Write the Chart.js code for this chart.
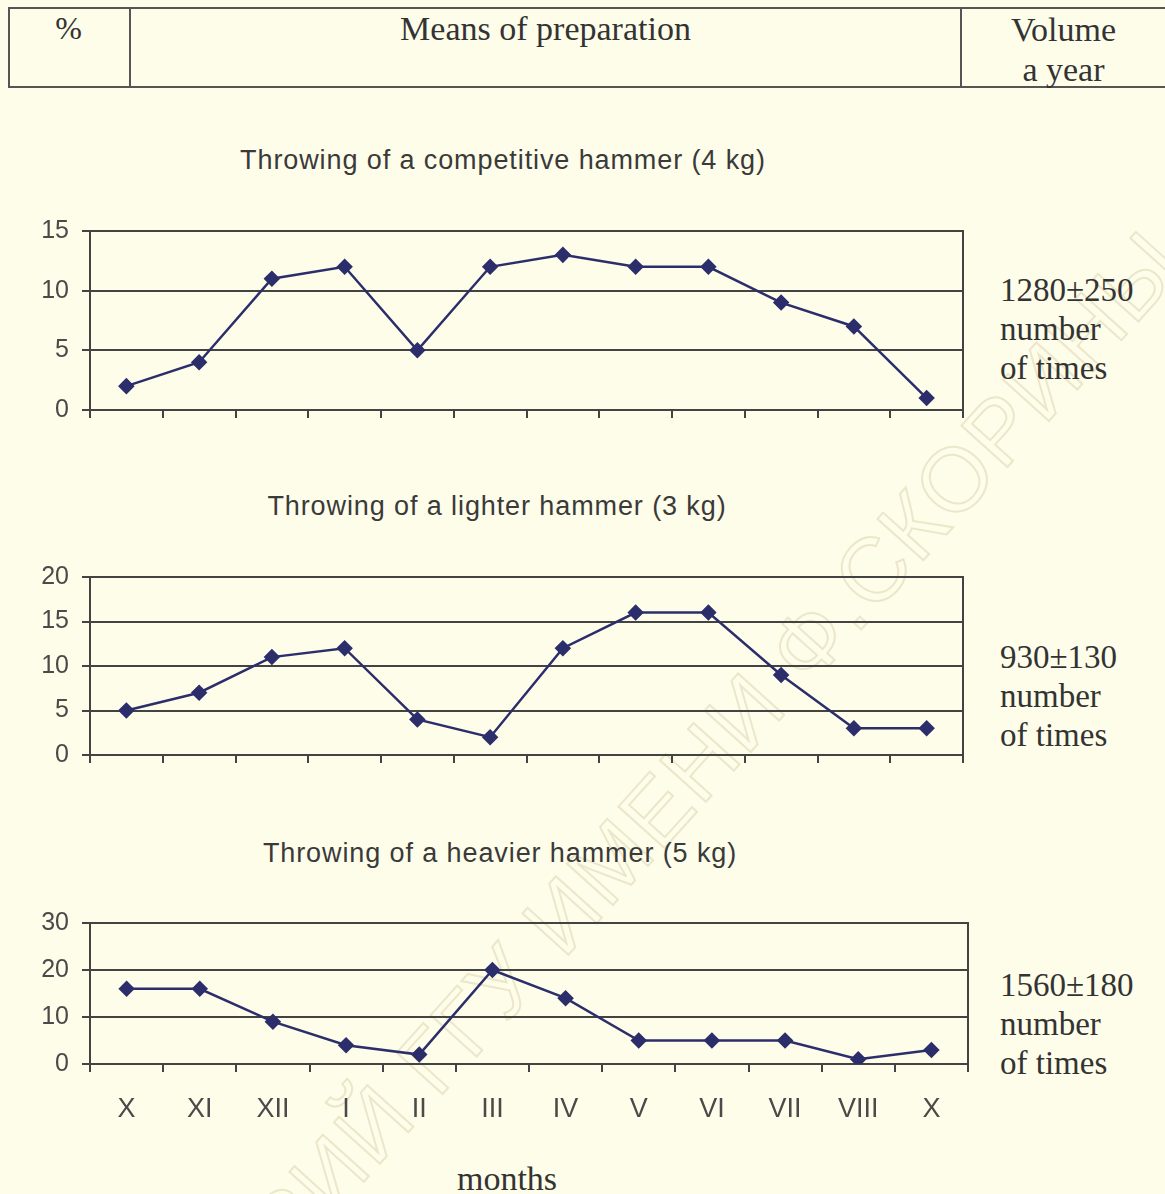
<!DOCTYPE html>
<html>
<head>
<meta charset="utf-8">
<script src="https://cdn.jsdelivr.net/npm/chart.js@4.4.0/dist/chart.umd.min.js"></script>
<style>
  html, body { margin:0; padding:0; }
  body { width:1165px; height:1194px; background:#fefde9; position:relative; overflow:hidden; }
  .abs { position:absolute; }
  .serif { font-family:"Liberation Serif","DejaVu Serif",serif; color:#333; }
  .sans { font-family:"Liberation Sans",Arial,sans-serif; color:#3a3a3a; }
  .hline { position:absolute; height:2px; background:#555; }
  .vline { position:absolute; width:2px; background:#555; }
  canvas { position:absolute; left:0; }
  .wm { position:absolute; font-family:"Liberation Sans",sans-serif; font-size:90px;
        color:transparent; -webkit-text-stroke:2px rgba(200,188,140,0.32); white-space:nowrap;
        left:545px; top:935px; transform:translate(-50%,-50%) rotate(-48deg); letter-spacing:2px; }
</style>
</head>
<body>
<div class="wm">РЕПОЗИТОРИЙ ГГУ ИМЕНИ Ф.СКОРИНЫ</div>

<!-- header table -->
<div class="hline" style="left:8px; top:7px; width:1157px;"></div>
<div class="hline" style="left:8px; top:86px; width:1157px;"></div>
<div class="vline" style="left:8px; top:7px; height:81px;"></div>
<div class="vline" style="left:129px; top:7px; height:81px;"></div>
<div class="vline" style="left:960px; top:7px; height:81px;"></div>
<div class="abs serif" style="left:8px; width:121px; top:10px; font-size:32px; text-align:center;">%</div>
<div class="abs serif" style="left:131px; width:829px; top:10px; font-size:34px; text-align:center;">Means of preparation</div>
<div class="abs serif" style="left:962px; width:203px; top:10px; font-size:34px; text-align:center; line-height:40px;">Volume<br>a year</div>

<!-- titles -->
<div class="abs sans" id="t1" style="left:0; width:1006px; top:145px; font-size:27px; letter-spacing:0.9px; text-align:center;"></div>
<div class="abs sans" id="t2" style="left:0; width:994px; top:491px; font-size:27px; letter-spacing:0.9px; text-align:center;"></div>
<div class="abs sans" id="t3" style="left:0; width:1000px; top:838px; font-size:27px; letter-spacing:0.9px; text-align:center;"></div>

<!-- right notes -->
<div class="abs serif" id="n1" style="left:1000px; top:271px; font-size:33px; line-height:39px;"></div>
<div class="abs serif" id="n2" style="left:1000px; top:638px; font-size:33px; line-height:39px;"></div>
<div class="abs serif" id="n3" style="left:1000px; top:966px; font-size:33px; line-height:39px;"></div>

<div class="abs serif" style="left:0; width:1014px; top:1160px; font-size:34px; text-align:center;">months</div>

<canvas id="c1" width="1000" height="220" style="top:210px; width:1000px; height:220px;"></canvas>
<canvas id="c2" width="1000" height="220" style="top:556px; width:1000px; height:220px;"></canvas>
<canvas id="c3" width="1000" height="220" style="top:900px; width:1000px; height:220px;"></canvas>

<script>
const months = ["X","XI","XII","I","II","III","IV","V","VI","VII","VIII","X"];
const competitive4kg = [2, 4, 11, 12, 5, 12, 13, 12, 12, 9, 7, 1];
const lighter3kg = [5, 7, 11, 12, 4, 2, 12, 16, 16, 9, 3, 3];
const heavier5kg = [16, 16, 9, 4, 2, 20, 14, 5, 5, 5, 1, 3];
const yMax = [15, 20, 30];
const yStep = [5, 5, 10];
const titles = ["Throwing of a competitive hammer (4 kg)", "Throwing of a lighter hammer (3 kg)", "Throwing of a heavier hammer (5 kg)"];
const volumes = ["1280±250", "930±130", "1560±180"];
const volumeUnit = ["number", "of times"];

["t1","t2","t3"].forEach((id,i)=>{ document.getElementById(id).textContent = titles[i]; });
["n1","n2","n3"].forEach((id,i)=>{ document.getElementById(id).innerHTML = volumes[i] + "<br>" + volumeUnit[0] + "<br>" + volumeUnit[1]; });

const lineCol = '#2c2e6c';
const gridCol = '#434343';
const tickCol = '#4a4a4a';
const sansFont = '"Liberation Sans", Arial, sans-serif';

function makeChart(canvasId, data, max, step, showLabels, rightPad, plotTop, plotBottom) {
  const cv = document.getElementById(canvasId);
  const chart = new Chart(cv, {
    type: 'line',
    data: {
      labels: months,
      datasets: [{
        data: data,
        borderColor: lineCol,
        backgroundColor: lineCol,
        borderWidth: 2.5,
        pointStyle: 'rectRot',
        pointRadius: 6.5,
        pointHoverRadius: 6.5,
        pointBackgroundColor: lineCol,
        pointBorderColor: lineCol,
        tension: 0,
        fill: false
      }]
    },
    options: {
      responsive: false,
      maintainAspectRatio: false,
      animation: false,
      events: [],
      layout: { padding: { top: 16, right: rightPad, bottom: 0, left: 0 } },
      plugins: { legend: { display: false }, tooltip: { enabled: false }, title: { display: false } },
      scales: {
        x: {
          type: 'category',
          offset: true,
          grid: { display: true, offset: true, drawOnChartArea: false, drawTicks: true, tickLength: 8, color: gridCol, lineWidth: 2 },
          border: { display: true, color: gridCol, width: 2 },
          ticks: { display: showLabels, color: tickCol, padding: 21, font: { family: sansFont, size: 27 }, maxRotation: 0, autoSkip: false },
          afterFit: (s) => { s.height = showLabels ? 64 : 14; }
        },
        y: {
          min: 0, max: max,
          grid: { color: gridCol, lineWidth: 2, drawTicks: true, tickLength: 8 },
          border: { display: true, color: gridCol, width: 2 },
          ticks: { stepSize: step, color: tickCol, padding: 13, font: { family: sansFont, size: 25 } },
          afterFit: (s) => { s.width = 90; }
        },
        yr: {
          position: 'right',
          min: 0, max: max,
          grid: { display: false, drawTicks: false },
          border: { display: true, color: gridCol, width: 2 },
          ticks: { display: false },
          afterFit: (s) => { s.width = 0; }
        }
      }
    }
  });
  // place the canvas so that the plot area spans plotTop..plotBottom on the page
  const offTop = chart.chartArea.top;
  const offBottom = chart.height - chart.chartArea.bottom;
  const newH = Math.round((plotBottom - plotTop) + offTop + offBottom);
  cv.style.top = (plotTop - offTop) + 'px';
  cv.style.height = newH + 'px';
  chart.resize(1000, newH);
  return chart;
}

makeChart('c1', competitive4kg, yMax[0], yStep[0], false, 37, 231, 410);
makeChart('c2', lighter3kg, yMax[1], yStep[1], false, 37, 577, 755);
makeChart('c3', heavier5kg, yMax[2], yStep[2], true, 32, 923, 1064);
</script>
</body>
</html>
